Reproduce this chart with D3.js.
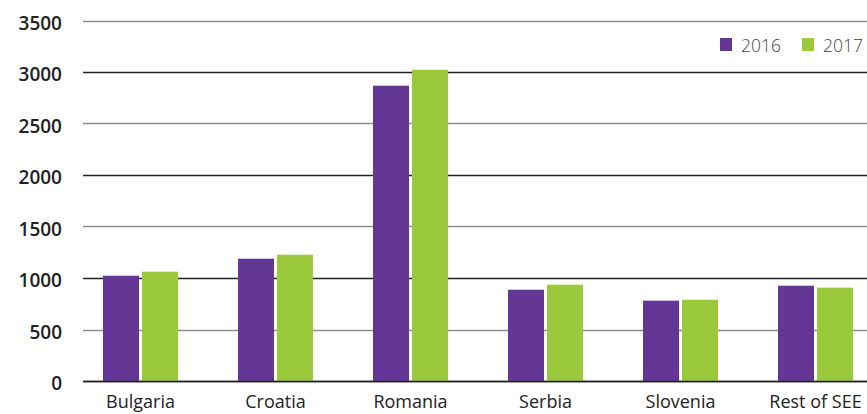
<!DOCTYPE html>
<html>
<head>
<meta charset="utf-8">
<script src="https://cdn.jsdelivr.net/npm/d3@7"></script>
<style>
html,body{margin:0;padding:0;background:#fff;}
svg{display:block;}
</style>
</head>
<body>
<svg id="chart" width="867" height="414"></svg>
<script>
const categories = ["Bulgaria", "Croatia", "Romania", "Serbia", "Slovenia", "Rest of SEE"];
const seriesNames = ["2016", "2017"];
const values2016 = [1022, 1187, 2867, 886, 780, 925];
const values2017 = [1061, 1226, 3022, 935, 789, 906];
const yTicks = [0, 500, 1000, 1500, 2000, 2500, 3000, 3500];
const colors = ["#643695", "#9bc93c"];

const svg = d3.select("#chart");
const W = 867, H = 414;
const FONT = "'Open Sans', sans-serif";

const y = d3.scaleLinear().domain([0, 3500]).range([381, 20.5]);
const x0 = d3.scaleBand().domain(categories).range([73, 883]).paddingInner(60/135).paddingOuter(30/135);
const x1 = d3.scaleBand().domain(seriesNames).range([0, x0.bandwidth()]).paddingInner(3/39).paddingOuter(0);

// gridlines
svg.append("g").selectAll("line").data(yTicks).join("line")
  .attr("x1", 83).attr("x2", W)
  .attr("y1", d => Math.round(y(d)) + 0.5).attr("y2", d => Math.round(y(d)) + 0.5)
  .attr("stroke", d => d % 1000 === 0 ? "#222" : "#8f8f8f")
  .attr("stroke-width", 1.6);

// y labels
svg.append("g").selectAll("text").data(yTicks).join("text")
  .attr("x", 62).attr("y", d => y(d) + 9)
  .attr("text-anchor", "end")
  .attr("font-family", FONT).attr("font-weight", 600)
  .attr("font-size", 19).attr("fill", "#222")
  .text(d => d);

// bars
const data = categories.map((c, i) => ({ c, v: [values2016[i], values2017[i]] }));
const groups = svg.append("g").selectAll("g").data(data).join("g")
  .attr("transform", d => `translate(${x0(d.c)},0)`);
groups.selectAll("rect").data(d => d.v.map((v, j) => ({ s: seriesNames[j], v, j })))
  .join("rect")
  .attr("x", d => x1(d.s)).attr("width", x1.bandwidth())
  .attr("y", d => y(d.v)).attr("height", d => y(0) - y(d.v))
  .attr("fill", d => colors[d.j]);

// baseline redraw on top
svg.append("line").attr("x1", 83).attr("x2", W).attr("y1", Math.round(y(0)) + 0.5).attr("y2", Math.round(y(0)) + 0.5)
  .attr("stroke", "#222").attr("stroke-width", 1.6);

// x labels
svg.append("g").selectAll("text").data(categories).join("text")
  .attr("x", d => x0(d) + x0.bandwidth() / 2).attr("y", 408)
  .attr("text-anchor", "middle")
  .attr("font-family", FONT).attr("font-size", 18).attr("fill", "#222")
  .text(d => d);

// legend
const legendX = [720, 802];
const leg = svg.append("g").selectAll("g").data(seriesNames).join("g")
  .attr("transform", (d, i) => `translate(${legendX[i]},38)`);
leg.append("rect").attr("width", 12).attr("height", 13).attr("fill", (d, i) => colors[i]);
leg.append("text").attr("x", 21).attr("y", 14)
  .attr("font-family", FONT).attr("font-weight", 300).attr("font-size", 17.5).attr("fill", "#444")
  .text(d => d);
</script>
</body>
</html>
